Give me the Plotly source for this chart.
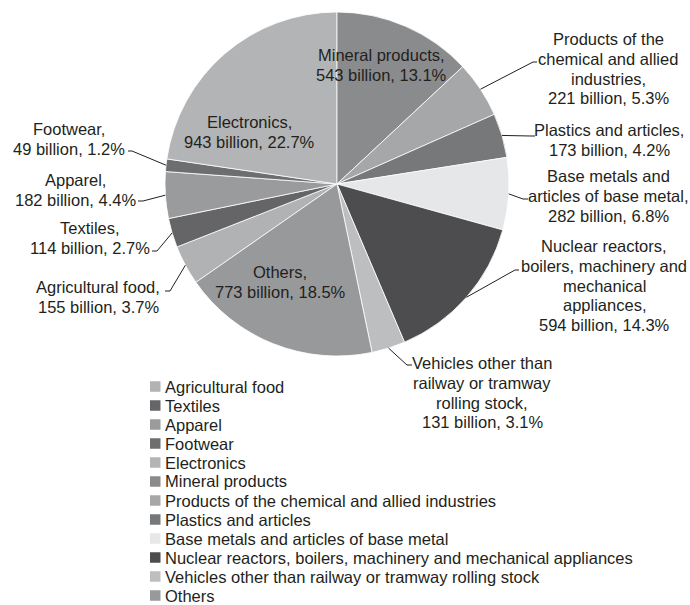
import math
import plotly.graph_objects as go

# ---- data -------------------------------------------------------------
categories = [
    "Agricultural food",
    "Textiles",
    "Apparel",
    "Footwear",
    "Electronics",
    "Mineral products",
    "Products of the chemical and allied industries",
    "Plastics and articles",
    "Base metals and articles of base metal",
    "Nuclear reactors, boilers, machinery and mechanical appliances",
    "Vehicles other than railway or tramway rolling stock",
    "Others",
]
# wrapped versions of the names used in the slice labels
label_names = [
    "Agricultural food",
    "Textiles",
    "Apparel",
    "Footwear",
    "Electronics",
    "Mineral products",
    "Products of the<br>chemical and allied<br>industries",
    "Plastics and articles",
    "Base metals and<br>articles of base metal",
    "Nuclear reactors,<br>boilers, machinery and<br>mechanical<br>appliances",
    "Vehicles other than<br>railway or tramway<br>rolling stock",
    "Others",
]
values_bn = [155, 114, 182, 49, 943, 543, 221, 173, 282, 594, 131, 773]
shares_pct = [3.7, 2.7, 4.4, 1.2, 22.7, 13.1, 5.3, 4.2, 6.8, 14.3, 3.1, 18.5]

slice_colors = [
    "#b1b2b4", "#656567", "#9a9b9d", "#6d6e70", "#b3b4b6", "#8a8b8d",
    "#a6a7a9", "#77787a", "#e6e7e8", "#4d4d4f", "#bdbec0", "#98999b",
]

# ---- layout constants (pixels) ---------------------------------------
W, H = 690, 605
CX, CY, R = 337, 184, 172
FONT = "Liberation Sans, Arial, sans-serif"
FS = 16.5
TEXT_COLOR = "#231f20"
LABEL_DY = 19.8

# label: centre x, centre y of first line, leader attach point, tick length
label_layout = {
    "Agricultural food": dict(x=98, y=287, attach=(165, 291), tick=5),
    "Textiles": dict(x=90, y=228, attach=(152, 251), tick=5),
    "Apparel": dict(x=75, y=180, attach=(138, 201), tick=5),
    "Footwear": dict(x=69, y=129, attach=(128, 151), tick=4),
    "Electronics": dict(x=249, y=122),
    "Mineral products": dict(x=381, y=55),
    "Products of the chemical and allied industries": dict(x=608, y=39, attach=(537, 62), tick=-4),
    "Plastics and articles": dict(x=609, y=130, attach=(535, 136), tick=-4),
    "Base metals and articles of base metal": dict(x=608, y=176, attach=(528, 199), tick=-5),
    "Nuclear reactors, boilers, machinery and mechanical appliances": dict(x=604, y=246, attach=(519, 270), tick=-4),
    "Vehicles other than railway or tramway rolling stock": dict(x=482, y=363, attach=(412, 365), tick=-5),
    "Others": dict(x=280, y=272),
}

LEG_X, LEG_Y0, LEG_DY, LEG_SQ = 150, 386.5, 19.0, 10.5


def px(x):
    return x / W


def py(y):
    return 1 - y / H


def text_line(x, y, s, anchor="center"):
    return dict(
        x=px(x), y=py(y), xref="paper", yref="paper",
        xanchor=anchor, yanchor="middle", showarrow=False, text=s,
        font=dict(family=FONT, size=FS, color=TEXT_COLOR),
    )


total = sum(values_bn)
# start the first slice so that "Mineral products" begins at 12 o'clock
before_mineral = sum(values_bn[: categories.index("Mineral products")])
rotation = -360.0 * before_mineral / total

fig = go.Figure(
    go.Pie(
        labels=categories,
        values=values_bn,
        sort=False,
        direction="clockwise",
        rotation=rotation,
        marker=dict(colors=slice_colors, line=dict(color="#ffffff", width=0.8)),
        textinfo="none",
        hovertemplate="%{label}<br>%{value} billion (%{percent})<extra></extra>",
        showlegend=False,
        domain=dict(x=[px(CX - R), px(CX + R)], y=[py(CY + R), py(CY - R)]),
    )
)

annotations = []
shapes = []

cum = 0.0
for name, wrapped, v, pct in zip(categories, label_names, values_bn, shares_pct):
    mid = cum + v / 2.0
    cum += v
    ang = math.radians(rotation + 360.0 * mid / total)
    edge = (CX + R * math.sin(ang), CY - R * math.cos(ang))

    spec = label_layout[name]
    lines = wrapped.split("<br>")
    lines[-1] += ","
    lines.append(f"{v} billion, {pct}%")
    for k, s in enumerate(lines):
        annotations.append(text_line(spec["x"], spec["y"] + k * LABEL_DY, s))

    if "attach" in spec:
        ax, ay = spec["attach"]
        bx = ax + spec["tick"]
        path = (f"M {px(ax)} {py(ay)} L {px(bx)} {py(ay)} "
                f"L {px(edge[0])} {py(edge[1])}")
        shapes.append(dict(type="path", xref="paper", yref="paper", path=path,
                           line=dict(color="#231f20", width=1)))

# legend drawn as swatch + name rows
for i, (name, col) in enumerate(zip(categories, slice_colors)):
    yc = LEG_Y0 + i * LEG_DY
    shapes.append(dict(
        type="rect", xref="paper", yref="paper",
        x0=px(LEG_X), x1=px(LEG_X + LEG_SQ),
        y0=py(yc + LEG_SQ / 2), y1=py(yc - LEG_SQ / 2),
        fillcolor=col, line=dict(width=0),
    ))
    annotations.append(text_line(LEG_X + LEG_SQ + 2, yc, name, anchor="left"))

fig.update_layout(
    width=W, height=H,
    margin=dict(l=0, r=0, t=0, b=0),
    paper_bgcolor="#ffffff",
    plot_bgcolor="#ffffff",
    annotations=annotations,
    shapes=shapes,
)

fig.write_html("out.html")
